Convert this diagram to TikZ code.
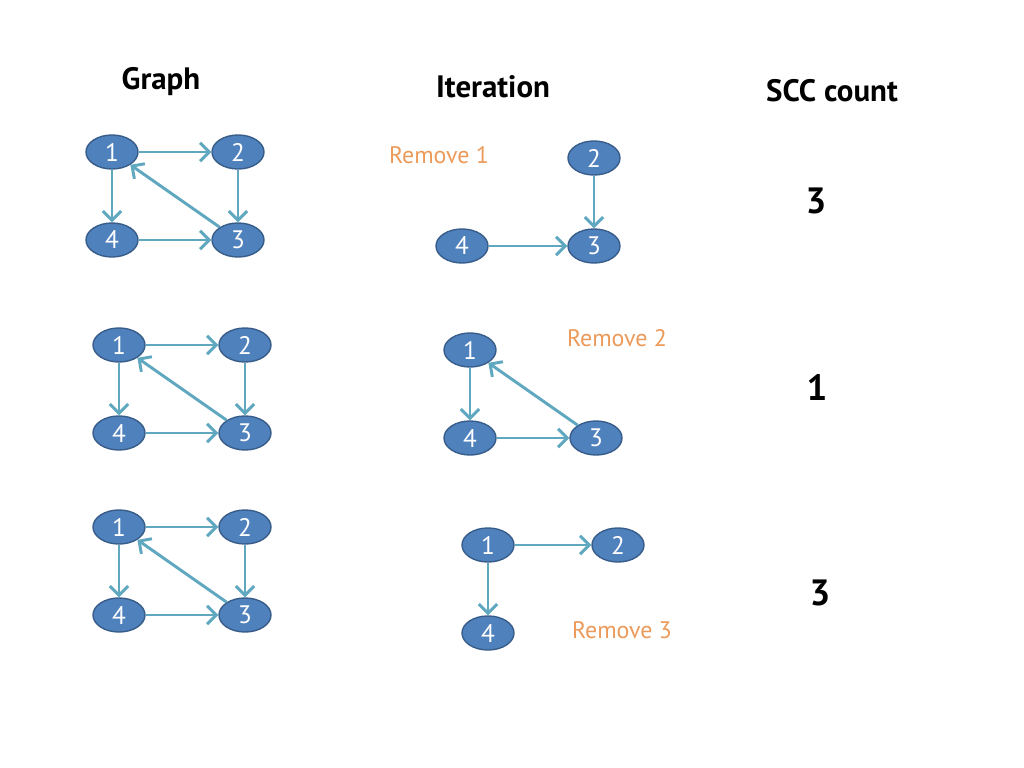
\documentclass[tikz,border=0pt]{standalone}
\usepackage{fontspec}
\setmainfont{PT Sans}
\definecolor{nodeblue}{HTML}{4F81BD}
\definecolor{nodeline}{HTML}{385D8A}
\definecolor{arrowteal}{HTML}{5FA8C0}
\definecolor{removeorange}{HTML}{EC9A5A}
\tikzstyle{vert}=[ellipse,fill=nodeblue,draw=nodeline,line width=1pt,minimum width=1.3cm,minimum height=0.85cm,inner sep=0pt,text=white,font=\fontsize{18}{18}\selectfont]
\tikzstyle{edge1}=[draw=arrowteal,line width=2.1pt,-{Straight Barb[length=2.3mm,width=4.6mm]}]
\tikzstyle{title}=[font=\bfseries\fontsize{22}{22}\selectfont]
\tikzstyle{removed}=[text=removeorange,font=\fontsize{17}{17}\selectfont]
\tikzstyle{count}=[font=\bfseries\fontsize{26}{26}\selectfont]
\usetikzlibrary{shapes.geometric,arrows.meta,positioning}
\newcommand{\drawedges}[2][]{
	\foreach \a/\b in {#2}{
		\draw[#1] (\a) edge (\b);
	}
}

\begin{document}
\begin{tikzpicture}[x=0.025cm,y=-0.025cm]
\useasboundingbox (0,0) rectangle (1024,768);
% headings
\node[title] (hgraph) at (161,82) {Graph};
\node[title] (hiter) at (493,87) {Iteration};
\node[title] (hscc) at (832,91) {SCC count};

% full graph, three times
\foreach \r/\x/\y in {a/112/152,b/119/345,c/119/527}{
\node[vert] (\r1) at (\x,\y) {1};
\node[vert] (\r2) at (\x+126,\y) {2};
\node[vert] (\r4) at (\x,\y+88) {4};
\node[vert] (\r3) at (\x+126,\y+88) {3};
}
\drawedges[edge1]{a1/a2,a2/a3,a1/a4,a4/a3,a3/a1}
\drawedges[edge1]{b1/b2,b2/b3,b1/b4,b4/b3,b3/b1}
\drawedges[edge1]{c1/c2,c2/c3,c1/c4,c4/c3,c3/c1}

% remove 1
\node[removed] (rm1) at (439,155) {Remove 1};
\node[vert] (d2) at (594,158) {2};
\node[vert] (d4) at (462,246) {4};
\node[vert] (d3) at (594,246) {3};
\drawedges[edge1]{d2/d3,d4/d3}

% remove 2
\node[removed] (rm2) at (617,338) {Remove 2};
\node[vert] (e1) at (470,350) {1};
\node[vert] (e4) at (470,438) {4};
\node[vert] (e3) at (596,438) {3};
\drawedges[edge1]{e1/e4,e4/e3,e3/e1}

% remove 3
\node[removed] (rm3) at (622,630) {Remove 3};
\node[vert] (f1) at (488,545) {1};
\node[vert] (f2) at (618,545) {2};
\node[vert] (f4) at (488,633) {4};
\drawedges[edge1]{f1/f2,f1/f4}

% counts
\node[count] (n1) at (816,201) {3};
\node[count] (n2) at (817,387) {1};
\node[count] (n3) at (820,593) {3};
\end{tikzpicture}
\end{document}
